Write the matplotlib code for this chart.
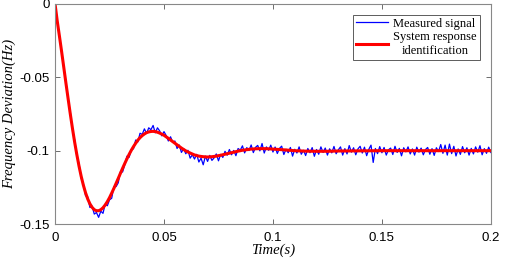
import numpy as np
import matplotlib
matplotlib.use("Agg")
import matplotlib.pyplot as plt

# identified system response
fit_t = [0.000, 0.001, 0.002, 0.003, 0.004, 0.005, 0.006, 0.007, 0.008, 0.009,
         0.010, 0.011, 0.012, 0.013, 0.014, 0.015, 0.016, 0.017, 0.018, 0.019,
         0.020, 0.021, 0.022, 0.023, 0.024, 0.025, 0.026, 0.027, 0.028, 0.029,
         0.030, 0.031, 0.032, 0.033, 0.034, 0.035, 0.036, 0.037, 0.038, 0.039,
         0.040, 0.041, 0.042, 0.043, 0.044, 0.045, 0.046, 0.047, 0.048, 0.049,
         0.050, 0.052, 0.054, 0.056, 0.058, 0.060, 0.062, 0.064, 0.066, 0.068,
         0.070, 0.072, 0.074, 0.076, 0.078, 0.080, 0.082, 0.084, 0.086, 0.088,
         0.090, 0.092, 0.094, 0.096, 0.098, 0.100, 0.105, 0.110, 0.115, 0.120,
         0.125, 0.130, 0.140, 0.150, 0.160, 0.170, 0.180, 0.190, 0.200]
fit_y = [0.0, -0.0116, -0.0218, -0.0323, -0.0431, -0.0540, -0.0646, -0.0750, -0.0849, -0.0942,
         -0.1027, -0.1105, -0.1175, -0.1235, -0.1287, -0.1329, -0.1362, -0.1386, -0.1402, -0.1409,
         -0.1409, -0.1402, -0.1389, -0.1370, -0.1347, -0.1320, -0.1289, -0.1257, -0.1223, -0.1189,
         -0.1154, -0.1120, -0.1087, -0.1055, -0.1025, -0.0997, -0.0972, -0.0949, -0.0928, -0.0911,
         -0.0897, -0.0886, -0.0877, -0.0872, -0.0869, -0.0868, -0.0870, -0.0874, -0.0880, -0.0887,
         -0.0895, -0.0916, -0.0938, -0.0960, -0.0982, -0.1001, -0.1016, -0.1029, -0.1037, -0.1041,
         -0.1043, -0.1041, -0.1037, -0.1031, -0.1024, -0.1017, -0.1010, -0.1003, -0.0997, -0.0993,
         -0.0989, -0.0987, -0.0986, -0.0986, -0.0987, -0.0989, -0.0994, -0.1000, -0.1003, -0.1004,
         -0.1004, -0.1002, -0.1001, -0.1000, -0.1000, -0.1000, -0.1000, -0.1000, -0.1000]

# measured signal, one sample per ms from 0 to 0.2 s
measured = [
    0.0, -0.0114, -0.0221, -0.0319, -0.0433, -0.0534, -0.0651, -0.0738, -0.0857, -0.0927,
    -0.1037, -0.1087, -0.1189, -0.1226, -0.1307, -0.1315, -0.1387, -0.1378, -0.1432, -0.1421,
    -0.1454, -0.1412, -0.1427, -0.1365, -0.1375, -0.1335, -0.1324, -0.1245, -0.1245, -0.1219,
    -0.1144, -0.1145, -0.1095, -0.1037, -0.1045, -0.0992, -0.0987, -0.0927, -0.0940, -0.0881,
    -0.0889, -0.0851, -0.0882, -0.0844, -0.0857, -0.0828, -0.0878, -0.0844, -0.0865, -0.0899,
    -0.0870, -0.0897, -0.0934, -0.0905, -0.0943, -0.0934, -0.0985, -0.0961, -0.1012, -0.0986,
    -0.1021, -0.0997, -0.1051, -0.1028, -0.1057, -0.1025, -0.1077, -0.1051, -0.1096, -0.1037,
    -0.1073, -0.1032, -0.1066, -0.1049, -0.1022, -0.1069, -0.1025, -0.1046, -0.1004, -0.1031,
    -0.0992, -0.1028, -0.0998, -0.1034, -0.0985, -0.0996, -0.0967, -0.1015, -0.0979, -0.0999,
    -0.0961, -0.1013, -0.0977, -0.0964, -0.1001, -0.0951, -0.1016, -0.0974, -0.0997, -0.0962,
    -0.1009, -0.0975, -0.1019, -0.0984, -0.0969, -0.1026, -0.0990, -0.1014, -0.0978, -0.1037,
    -0.0990, -0.1016, -0.0974, -0.1024, -0.0997, -0.1033, -0.0985, -0.1014, -0.0979, -0.1038,
    -0.0992, -0.1024, -0.0974, -0.1012, -0.0982, -0.1030, -0.0987, -0.1015, -0.0971, -0.1021,
    -0.0994, -0.0974, -0.1030, -0.0986, -0.1022, -0.0965, -0.1010, -0.0980, -0.1028, -0.0988,
    -0.0970, -0.1016, -0.0976, -0.1034, -0.0990, -0.0962, -0.1080, -0.0985, -0.1020, -0.0972,
    -0.1014, -0.0978, -0.1030, -0.0994, -0.0982, -0.1026, -0.0970, -0.1012, -0.0984, -0.1035,
    -0.0980, -0.1008, -0.0974, -0.1022, -0.0988, -0.1030, -0.0976, -0.1010, -0.0982, -0.1028,
    -0.0992, -0.0978, -0.1024, -0.0986, -0.1032, -0.0980, -0.1006, -0.0958, -0.1018, -0.0962,
    -0.1030, -0.0955, -0.1020, -0.0970, -0.1036, -0.0988, -0.1025, -0.0972, -0.1014, -0.0980,
    -0.1030, -0.0984, -0.1022, -0.0974, -0.1010, -0.0966, -0.1028, -0.0986, -0.1018, -0.0976,
    -0.1012]
measured_t = np.linspace(0, 0.2, len(measured))

x_ticks = [0, 0.05, 0.1, 0.15, 0.2]
x_labels = ["0", "0.05", "0.1", "0.15", "0.2"]
y_ticks = [0, -0.05, -0.1, -0.15]
y_labels = ["0", "-0.05", "-0.1", "-0.15"]

plt.rcParams['font.family'] = ['Liberation Sans', 'DejaVu Sans']

fig = plt.figure(figsize=(5.05, 2.63), dpi=100)
ax = fig.add_axes([0.109, 0.148, 0.863, 0.837])

ax.plot(measured_t, measured, color='#0000ff', linewidth=0.9, label="Measured signal")
ax.plot(fit_t, fit_y, color='#ff0000', linewidth=2.2, label="System response\nidentification")

ax.set_xlim(0, 0.2)
ax.set_ylim(-0.15, 0)
ax.set_xticks(x_ticks)
ax.set_xticklabels(x_labels)
ax.set_yticks(y_ticks)
ax.set_yticklabels(y_labels)
ax.tick_params(direction='in', length=3.5, width=0.6, color='#555555',
               labelsize=9.5, top=True, right=True, pad=4)
ax.tick_params(axis='x', pad=6)
for s in ax.spines.values():
    s.set_color('#888888')
    s.set_linewidth(0.8)

serif = ['Liberation Serif', 'DejaVu Serif']
ax.set_xlabel("Time(s)", family=serif, style='italic', fontsize=10.5, labelpad=-1)
ax.set_ylabel("Frequency Deviation(Hz)", family=serif, style='italic', fontsize=10.5, labelpad=2)

leg = ax.legend(loc='upper right', bbox_to_anchor=(0.975, 0.952), fancybox=False,
                frameon=True, edgecolor='#333333', handlelength=2.6, handletextpad=0.4,
                borderpad=0.25, borderaxespad=0.0, labelspacing=0.1,
                prop={'family': serif, 'size': 9})
leg.get_frame().set_linewidth(0.7)
for txt in leg.get_texts():
    txt.set_multialignment('center')

fig.savefig("out.png", dpi=100)
